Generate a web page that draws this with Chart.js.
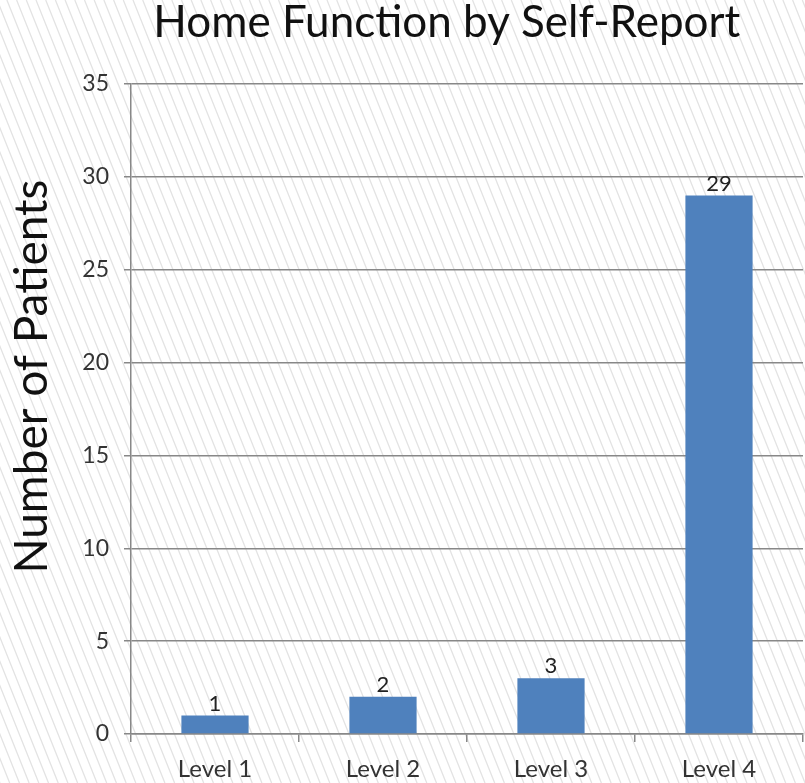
<!DOCTYPE html>
<html>
<head>
<meta charset="utf-8">
<script src="https://cdn.jsdelivr.net/npm/chart.js@4.4.1/dist/chart.umd.min.js"></script>
<style>
  html, body { margin: 0; padding: 0; background: #fff; }
  #wrap { width: 805px; height: 783px; }
</style>
</head>
<body>
<div id="wrap"><canvas id="chart"></canvas></div>
<script>
var levels = ["Level 1", "Level 2", "Level 3", "Level 4"];
var patients = [1, 2, 3, 29];
var yMax = 35;
var yStep = 5;
var chartTitle = "Home Function by Self-Report";
var yTitle = "Number of Patients";

var FONT = "Lato, 'Open Sans', sans-serif";

// light diagonal hatching behind everything
var hatch = {
  id: "hatch",
  beforeDraw: function (chart) {
    var c = chart.ctx, w = chart.width, h = chart.height;
    var run = h / 2.5;
    c.save();
    c.fillStyle = "#fff";
    c.fillRect(0, 0, w, h);
    c.strokeStyle = "#e3e3e3";
    c.lineWidth = 1.3;
    c.beginPath();
    for (var x = -run; x < w + 10; x += 9.7) {
      c.moveTo(x, 0);
      c.lineTo(x + run, h);
    }
    c.stroke();
    c.restore();
  }
};

// chart title and axis title, placed like the original (not centred on canvas)
var titles = {
  id: "titles",
  afterDraw: function (chart) {
    var c = chart.ctx, area = chart.chartArea;
    c.save();
    c.fillStyle = "#111";
    c.textAlign = "center";
    c.textBaseline = "alphabetic";
    c.font = "44px " + FONT;
    c.fillText(chartTitle, area.left + (area.right - area.left) * 0.47, 37);
    c.translate(47, area.top + (area.bottom - area.top) * 0.45);
    c.rotate(-Math.PI / 2);
    c.font = "46px " + FONT;
    c.fillText(yTitle, 0, 0);
    c.restore();
  }
};

// numbers above the bars
var valueLabels = {
  id: "valueLabels",
  afterDatasetsDraw: function (chart) {
    var c = chart.ctx, meta = chart.getDatasetMeta(0);
    c.save();
    c.font = "22px " + FONT;
    c.fillStyle = "#222";
    c.textAlign = "center";
    c.textBaseline = "bottom";
    meta.data.forEach(function (bar, i) {
      c.fillText(patients[i], bar.x, bar.y - 1);
    });
    c.restore();
  }
};

var ctx = document.getElementById("chart").getContext("2d");
var chart = new Chart(ctx, {
  type: "bar",
  data: {
    labels: levels,
    datasets: [{
      data: patients,
      backgroundColor: "#4f81bd",
      borderWidth: 0,
      categoryPercentage: 0.8,
      barPercentage: 0.5
    }]
  },
  options: {
    responsive: true,
    maintainAspectRatio: false,
    animation: false,
    layout: { padding: { left: 0, right: 2, top: 84, bottom: 0 } },
    plugins: {
      legend: { display: false },
      tooltip: { enabled: false },
      title: { display: false }
    },
    scales: {
      x: {
        grid: {
          offset: true,
          drawOnChartArea: false,
          drawTicks: true,
          tickLength: 8,
          color: "#888",
          lineWidth: 1.5
        },
        border: { color: "#888", width: 1.5 },
        ticks: { color: "#333", font: { family: FONT, size: 24 }, padding: 13 },
        afterFit: function (s) { s.height = 49; }
      },
      y: {
        min: 0,
        max: yMax,
        grid: { color: "#888", lineWidth: 1.5, tickLength: 7 },
        border: { color: "#888", width: 1.5 },
        ticks: { stepSize: yStep, color: "#333", font: { family: FONT, size: 23 }, padding: 15 },
        afterFit: function (s) { s.width = 131; }
      }
    }
  },
  plugins: [hatch, titles, valueLabels]
});
</script>
</body>
</html>
